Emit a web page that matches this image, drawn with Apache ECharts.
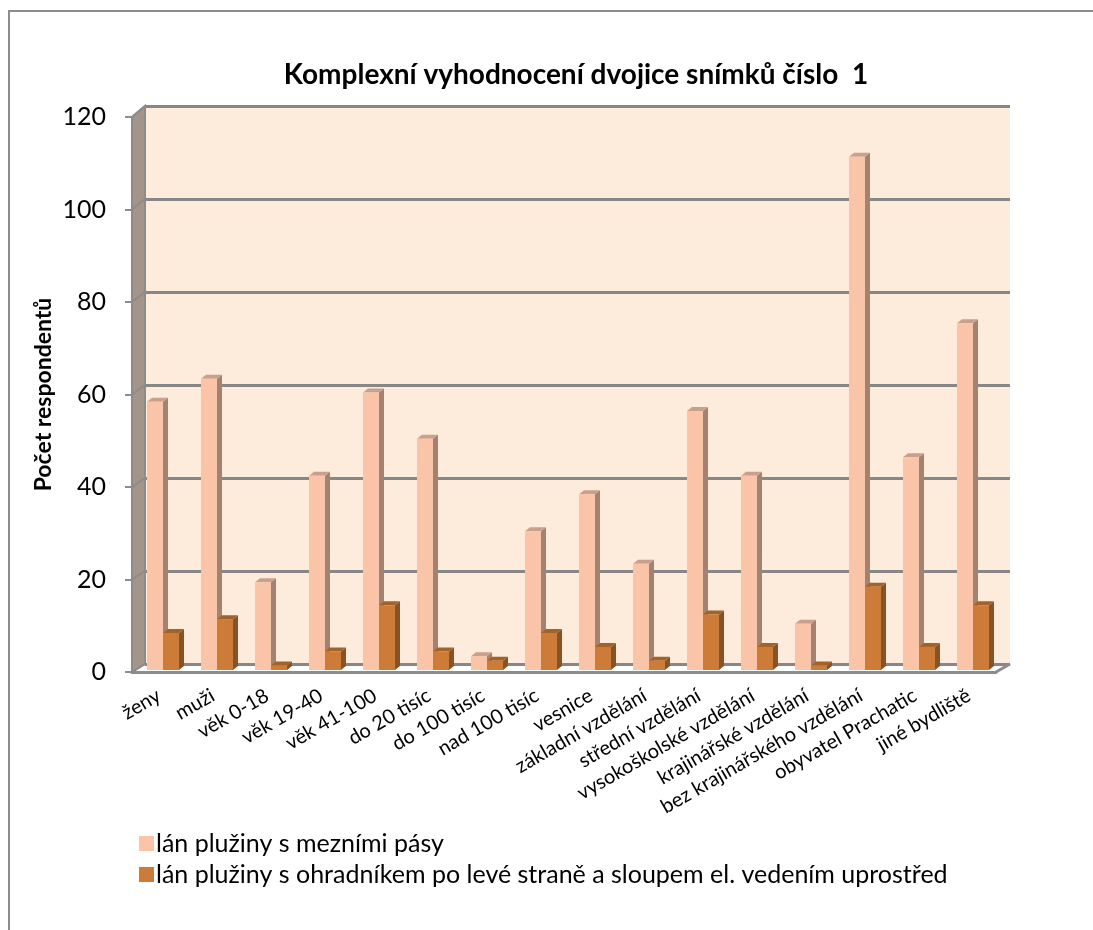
<!DOCTYPE html>
<html>
<head>
<meta charset="utf-8">
<script src="https://cdn.jsdelivr.net/npm/echarts@6/dist/echarts.min.js"></script>
<style>
  html, body { margin: 0; padding: 0; background: #fff; }
  #main { width: 1093px; height: 930px; }
</style>
</head>
<body>
<div id="main"></div>
<script>
var myChart = echarts.init(document.getElementById('main'));

// kategorie
var categories = ['ženy', 'muži', 'věk 0-18', 'věk 19-40', 'věk 41-100', 'do 20 tisíc',
  'do 100 tisíc', 'nad 100 tisíc', 'vesnice', 'základní vzdělání', 'střední vzdělání',
  'vysokoškolské vzdělání', 'krajinářské vzdělání', 'bez krajinářského vzdělání',
  'obyvatel Prachatic', 'jiné bydliště'];

// série
var seriesNames = ['lán plužiny s mezními pásy',
  'lán plužiny s ohradníkem po levé straně a sloupem el. vedením uprostřed'];
var meznePasy = [58, 63, 19, 42, 60, 50, 3, 30, 38, 23, 56, 42, 10, 111, 46, 75];
var ohradnik = [8, 11, 1, 4, 14, 4, 2, 8, 5, 2, 12, 5, 1, 18, 5, 14];

// osa y
var yTicks = [0, 20, 40, 60, 80, 100, 120];

// barvy (přední, boční, horní stěna)
var colors = [
  { front: '#f9c4a8', side: '#a5816e', top: '#c9a08b' },
  { front: '#cd7b38', side: '#8a5121', top: '#a4622b' }
];

var font = 'Lato, "Open Sans", sans-serif';

// 3D sloupec
function renderBar(idx) {
  return function (params, api) {
    var cat = api.value(0);
    var v = api.value(1);
    var top = api.coord([cat, v]);
    var base = api.coord([cat, 0]);
    var band = api.size([1, 0])[0];
    var w = band * 16 / 54;
    var dx = 5, dy = 4;
    var x0 = top[0] - band / 2 + band * 8 / 54 + idx * w;
    var c = colors[idx];
    return {
      type: 'group',
      children: [
        { type: 'polygon', shape: { points: [[x0 + w, top[1]], [x0 + w + dx, top[1] - dy], [x0 + w + dx, base[1] - dy], [x0 + w, base[1]]] }, style: { fill: c.side } },
        { type: 'polygon', shape: { points: [[x0, top[1]], [x0 + dx, top[1] - dy], [x0 + w + dx, top[1] - dy], [x0 + w, top[1]]] }, style: { fill: c.top } },
        { type: 'rect', shape: { x: x0, y: top[1], width: w, height: base[1] - top[1] }, style: { fill: c.front } }
      ]
    };
  };
}

function toPairs(arr) {
  return arr.map(function (v, i) { return [i, v]; });
}

var option = {
  backgroundColor: '#fff',
  animation: false,
  title: {
    text: 'Komplexní vyhodnocení dvojice snímků číslo  1',
    left: 571,
    top: 56,
    textAlign: 'center',
    textStyle: { fontFamily: font, fontSize: 28, fontWeight: 'bold', color: '#000' }
  },
  legend: {
    orient: 'vertical',
    left: 134,
    top: 826,
    itemWidth: 15,
    itemHeight: 15,
    itemGap: 6,
    icon: 'rect',
    data: seriesNames,
    textStyle: { fontFamily: font, fontSize: 25, color: '#000', padding: [0, 0, 0, -3] }
  },
  grid: [
    // zadní stěna
    { left: 145, right: 83, top: 106, bottom: 266, show: true, backgroundColor: '#fdebdc', borderWidth: 0 },
    // přední osy
    { left: 132, right: 97, top: 117, bottom: 258 },
    // sloupce
    { left: 139, right: 90, top: 115, bottom: 260 }
  ],
  xAxis: [
    { gridIndex: 0, type: 'category', data: categories, show: false },
    {
      gridIndex: 1, type: 'category', data: categories,
      axisLine: { lineStyle: { color: '#8c8c8c', width: 3 } },
      axisTick: { length: 6, lineStyle: { color: '#8c8c8c', width: 2 } },
      axisLabel: { interval: 0, rotate: 30, margin: 22, fontFamily: font, fontSize: 20, color: '#000' }
    },
    { gridIndex: 2, type: 'category', data: categories, show: false }
  ],
  yAxis: [
    {
      gridIndex: 0, type: 'value', min: 0, max: 120, interval: 20,
      axisLine: { show: false }, axisTick: { show: false }, axisLabel: { show: false },
      splitLine: { show: true, lineStyle: { color: '#878787', width: 3 } }
    },
    {
      gridIndex: 1, type: 'value', min: 0, max: 120, interval: 20,
      name: 'Počet respondentů', nameLocation: 'middle', nameGap: 77, nameMoveOverlap: false,
      nameTextStyle: { fontFamily: font, fontSize: 23, fontWeight: 'bold', color: '#000' },
      axisLine: { show: false },
      axisTick: { show: true, length: 7, lineStyle: { color: '#8c8c8c', width: 2 } },
      axisLabel: { margin: 26, fontFamily: font, fontSize: 25, color: '#000',
        formatter: function (v) { return yTicks.indexOf(v) >= 0 ? String(v) : ''; } },
      splitLine: { show: false }
    },
    { gridIndex: 2, type: 'value', min: 0, max: 120, interval: 20, show: false, splitLine: { show: false } }
  ],
  series: [
    {
      name: seriesNames[0], type: 'custom', xAxisIndex: 2, yAxisIndex: 2,
      itemStyle: { color: colors[0].front },
      renderItem: renderBar(0),
      encode: { x: 0, y: 1 },
      data: toPairs(meznePasy)
    },
    {
      name: seriesNames[1], type: 'custom', xAxisIndex: 2, yAxisIndex: 2,
      itemStyle: { color: colors[1].front },
      renderItem: renderBar(1),
      encode: { x: 0, y: 1 },
      data: toPairs(ohradnik)
    }
  ]
};

myChart.setOption(option);

// levá stěna, podlaha a rámeček
function bandEdge(axisIdx, cat, side) {
  var axis = myChart.getModel().getComponent('xAxis', axisIdx).axis;
  return myChart.convertToPixel({ xAxisIndex: axisIdx }, cat) + side * axis.getBandWidth() / 2;
}
var lastCat = categories.length - 1;
var frontX = bandEdge(1, 0, -1);
var backX = bandEdge(0, 0, -1);
var frontR = bandEdge(1, lastCat, 1);
var backR = bandEdge(0, lastCat, 1);
var fy0 = myChart.convertToPixel({ yAxisIndex: 1 }, 0);
var fyM = myChart.convertToPixel({ yAxisIndex: 1 }, 120);
var by0 = myChart.convertToPixel({ yAxisIndex: 0 }, 0);
var byM = myChart.convertToPixel({ yAxisIndex: 0 }, 120);

var graphics = [
  {
    type: 'rect', z: -10, silent: true,
    shape: { x: 9, y: 11, width: 1100, height: 940 },
    style: { fill: null, stroke: '#8c8c8c', lineWidth: 2 }
  },
  {
    type: 'polygon', z: 10,
    shape: { points: [[frontX, fy0], [frontX, fyM], [backX, byM], [backX, by0]] },
    style: { fill: '#a39589', stroke: '#8c8c8c', lineWidth: 2 }
  },
  {
    type: 'polyline', z: 10,
    shape: { points: [[frontR, fy0], [backR, by0]] },
    style: { stroke: '#8c8c8c', lineWidth: 3 }
  }
];
yTicks.forEach(function (t) {
  graphics.push({
    type: 'line', z: 11,
    shape: {
      x1: frontX, y1: myChart.convertToPixel({ yAxisIndex: 1 }, t),
      x2: backX, y2: myChart.convertToPixel({ yAxisIndex: 0 }, t)
    },
    style: { stroke: '#8c8c8c', lineWidth: 2 }
  });
});
myChart.setOption({ graphic: graphics });
</script>
</body>
</html>
